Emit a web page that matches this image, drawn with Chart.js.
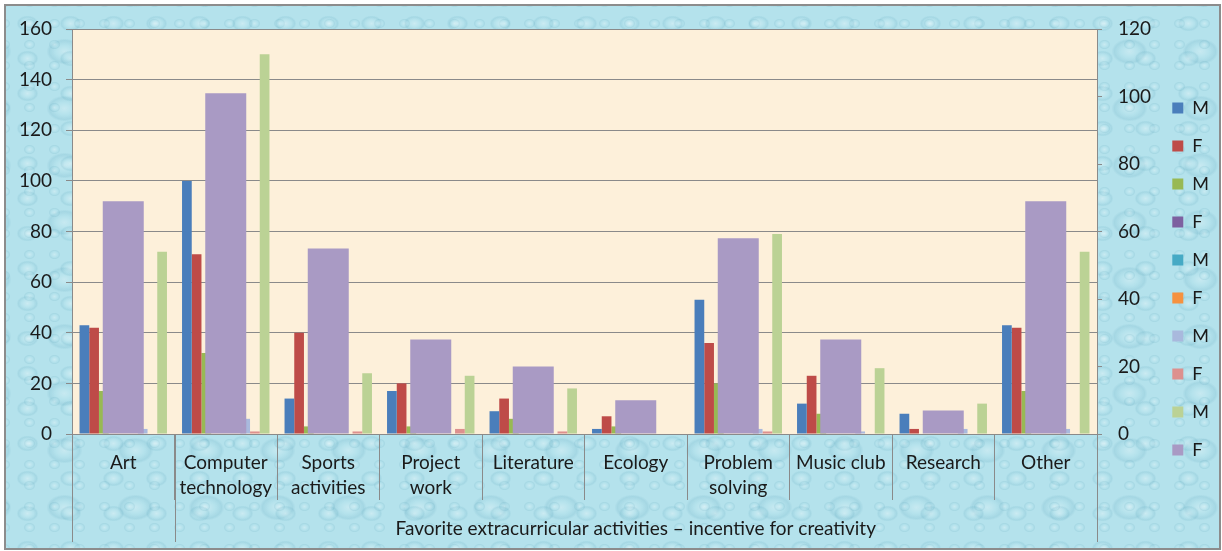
<!DOCTYPE html>
<html>
<head>
<meta charset="utf-8">
<script src="https://cdn.jsdelivr.net/npm/chart.js@4.4.1/dist/chart.umd.min.js"></script>
<style>
  html, body { margin: 0; padding: 0; background: #fff; }
  #wrap { position: relative; width: 1222px; height: 551px; }
  #frame {
    position: absolute; left: 4px; top: 4px; width: 1213px; height: 542px;
    border: 2px solid #8c8c8c;
    background-color: #b4e2ec;
    background-image:
      radial-gradient(ellipse 11px 8px at 50% 50%, rgba(255,255,255,.3) 0, rgba(255,255,255,0) 55%, rgba(70,150,175,.14) 82%, transparent 100%),
      radial-gradient(ellipse 6px 5px at 50% 50%, rgba(255,255,255,.28) 0, rgba(255,255,255,0) 55%, rgba(70,150,175,.12) 82%, transparent 100%),
      radial-gradient(ellipse 18px 13px at 50% 50%, rgba(255,255,255,.25) 0, rgba(255,255,255,0) 50%, rgba(60,140,170,.13) 84%, transparent 100%);
    background-size: 43px 35px, 25px 21px, 71px 57px;
    background-position: 0 0, 11px 7px, 23px 17px;
  }
  canvas { position: absolute; left: 0; top: 0; }
</style>
</head>
<body>
<div id="wrap">
  <div id="frame"></div>
  <canvas id="chart" width="1222" height="551"></canvas>
</div>
<script>
const categories = ['Art', ['Computer', 'technology'], ['Sports', 'activities'], ['Project', 'work'],
    'Literature', 'Ecology', ['Problem', 'solving'], 'Music club', 'Research', 'Other'];
const groupTitle = 'Favorite extracurricular activities \u2013 incentive for creativity';

const seriesNames = ['M', 'F', 'M', 'F', 'M', 'F', 'M', 'F', 'M', 'F'];
const seriesColors = ['#4a7ebb', '#be4b48', '#98b954', '#7d60a0', '#46aac5',
    '#f69240', '#a9b9dd', '#dd908e', '#bbd295', '#a99ac4'];

// left axis series
const m1 = [43, 100, 14, 17, 9, 2, 53, 12, 8, 43];
const f1 = [42, 71, 40, 20, 14, 7, 36, 23, 2, 42];
const m2 = [17, 32, 3, 3, 6, 3, 20, 8, 0, 17];
const f2 = [0, 0, 0, 0, 0, 0, 0, 0, 0, 0];
const m3 = [0, 0, 0, 0, 0, 0, 0, 0, 0, 0];
const f3 = [0, 0, 0, 0, 0, 0, 0, 0, 0, 0];
const m4 = [2, 6, 0, 0, 0, 0, 2, 1, 2, 2];
const f4 = [0, 1, 1, 2, 1, 0, 1, 0, 0, 0];
const m5 = [72, 150, 24, 23, 18, 0, 79, 26, 12, 72];
// right axis series
const f5 = [69, 101, 55, 28, 20, 10, 58, 28, 7, 69];

const leftTicks = [0, 20, 40, 60, 80, 100, 120, 140, 160];
const rightTicks = [0, 20, 40, 60, 80, 100, 120];

const fontFamily = 'Lato, "Open Sans", sans-serif';
const textColor = '#1a1a1a';
const lineColor = '#8a8a8a';

const primary = [m1, f1, m2, f2, m3, f3, m4, f4, m5];
const datasets = primary.map((d, i) => ({
    label: seriesNames[i],
    data: d,
    backgroundColor: seriesColors[i],
    borderWidth: 0,
    yAxisID: 'y',
    categoryPercentage: 0.853,
    barPercentage: 1
}));
datasets.push({
    label: seriesNames[9],
    data: f5,
    backgroundColor: seriesColors[9],
    borderWidth: 0,
    yAxisID: 'y2',
    grouped: false,
    order: -1,
    categoryPercentage: 0.4,
    barPercentage: 1
});

const plotBg = {
    id: 'plotBg',
    beforeDraw(chart) {
        const {ctx, chartArea: a} = chart;
        ctx.save();
        ctx.fillStyle = '#fdf0da';
        ctx.fillRect(a.left, a.top, a.right - a.left, a.bottom - a.top);
        ctx.restore();
    }
};

// nudge the legend column up a little, like the original
const legendShift = {
    id: 'legendShift',
    afterLayout(chart) {
        if (chart.legend) {
            chart.legend.top -= 11;
            chart.legend.bottom -= 11;
        }
    }
};

// outer level of the category axis: long dividers and the group caption
const groupAxis = {
    id: 'groupAxis',
    afterDraw(chart) {
        const {ctx, chartArea: a} = chart;
        const x = chart.scales.x;
        const half = (x.getPixelForValue(1) - x.getPixelForValue(0)) / 2;
        const start = x.getPixelForValue(1) - half;
        const end = x.getPixelForValue(categories.length - 1) + half;
        ctx.save();
        ctx.strokeStyle = lineColor;
        ctx.lineWidth = 1;
        [a.left, start, end].forEach(px => {
            const p = Math.round(px) + 0.5;
            ctx.beginPath();
            ctx.moveTo(p, a.bottom);
            ctx.lineTo(p, 542);
            ctx.stroke();
        });
        ctx.fillStyle = textColor;
        ctx.font = '19px ' + fontFamily;
        ctx.textAlign = 'center';
        ctx.textBaseline = 'middle';
        ctx.fillText(groupTitle, (start + end) / 2, 529);
        ctx.restore();
    }
};

new Chart(document.getElementById('chart'), {
    type: 'bar',
    data: { labels: categories, datasets: datasets },
    options: {
        responsive: false,
        animation: false,
        devicePixelRatio: 1,
        layout: { padding: { top: 29, right: 3, bottom: 0, left: 0 } },
        plugins: {
            legend: {
                position: 'right',
                labels: {
                    boxWidth: 11,
                    boxHeight: 11,
                    padding: 20,
                    color: textColor,
                    font: { family: fontFamily, size: 18 },
                    sort: (a, b) => a.datasetIndex - b.datasetIndex
                }
            },
            tooltip: { enabled: false }
        },
        scales: {
            x: {
                grid: { offset: true, drawOnChartArea: false, tickLength: 66, color: lineColor },
                border: { color: lineColor },
                ticks: {
                    autoSkip: false, maxRotation: 0, padding: -50,
                    color: textColor,
                    font: { family: fontFamily, size: 19, lineHeight: 1.32 }
                },
                afterFit: s => { s.height = 117; }
            },
            y: {
                position: 'left',
                min: leftTicks[0],
                max: leftTicks[leftTicks.length - 1],
                ticks: { stepSize: leftTicks[1] - leftTicks[0], padding: 14, color: textColor,
                    font: { family: fontFamily, size: 19 } },
                grid: { color: lineColor, tickLength: 6 },
                border: { color: lineColor },
                afterFit: s => { s.width = 72; }
            },
            y2: {
                position: 'right',
                min: rightTicks[0],
                max: rightTicks[rightTicks.length - 1],
                ticks: { stepSize: rightTicks[1] - rightTicks[0], padding: 16, color: textColor,
                    font: { family: fontFamily, size: 19 } },
                grid: { drawOnChartArea: false, color: lineColor, tickLength: 5 },
                border: { color: lineColor },
                afterFit: s => {
                    const lw = s.chart.legend ? s.chart.legend.width : 0;
                    s.width = s.chart.width - 1097 - 3 - lw;
                }
            }
        }
    },
    plugins: [plotBg, legendShift, groupAxis]
});
</script>
</body>
</html>
